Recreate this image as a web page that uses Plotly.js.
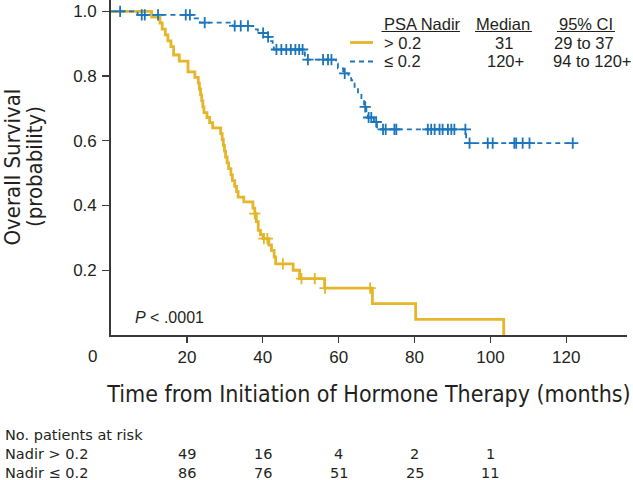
<!DOCTYPE html>
<html><head><meta charset="utf-8">
<script src="https://cdn.plot.ly/plotly-3.0.1.min.js"></script>
<style>html,body{margin:0;padding:0;background:#fff}</style>
</head><body><div id="chart" style="width:633px;height:480px"></div>
<script>
// PSA nadir > 0.2 (Kaplan-Meier event steps)
const highTimes = [0, 10.7, 12.9, 13.5, 14.3, 15.0, 15.8, 16.5, 18.0, 20.3, 22.1, 23.0, 23.3, 23.6, 23.9, 24.2, 24.5, 25.3, 26.0, 26.8,
  28.9, 29.3, 29.6, 29.9, 30.2, 30.6, 31.0, 31.6, 32.0, 32.6, 33.1, 33.5, 35.0, 37.4, 37.9, 38.3, 38.8, 39.4, 40.1, 41.6, 42.3, 43.0, 43.4,
  48.0, 49.7, 56.3, 68.9, 80.3, 103.5];
const highSurv = [1.0, 0.982, 0.964, 0.945, 0.927, 0.909, 0.891, 0.865, 0.846, 0.813, 0.796, 0.778, 0.760, 0.742, 0.724, 0.705, 0.687, 0.672, 0.656, 0.640,
  0.622, 0.604, 0.586, 0.568, 0.550, 0.532, 0.514, 0.495, 0.477, 0.459, 0.443, 0.426, 0.411, 0.392, 0.375, 0.350, 0.323, 0.310, 0.298, 0.278, 0.261, 0.241, 0.220,
  0.200, 0.174, 0.145, 0.097, 0.048, 0.0];
const highCensor = [37.9, 40.3, 41.2, 45.3, 50.2, 53.7, 56.4, 68.3];

// PSA nadir <= 0.2
const lowTimes = [0, 7.0, 21.6, 23.4, 32.1, 37.5, 38.7, 40.7, 41.8, 42.6, 42.9, 51.1, 59.3, 59.8, 61.2, 62.6, 63.3, 64.2, 65.1, 66.0, 66.7, 67.3, 67.7, 69.3, 70.1, 93.6, 121.7];
const lowSurv = [1.0, 0.989, 0.978, 0.965, 0.955, 0.944, 0.933, 0.921, 0.908, 0.894, 0.882, 0.851, 0.838, 0.824, 0.808, 0.797, 0.787, 0.767, 0.746, 0.726, 0.705, 0.684, 0.672, 0.658, 0.635, 0.593, 0.593];
const lowCensor = [2.4, 8.1, 8.9, 12.4, 19.7, 20.8, 24.7, 32.6, 34.2, 36.1, 40.1, 41.4, 43.6, 44.9, 46.2, 47.4, 48.6, 49.6, 50.5,
  51.9, 55.9, 57.2, 58.1, 61.6, 67.0, 67.9, 68.6, 69.9, 71.7, 72.4, 74.7, 75.2, 83.5, 84.4, 85.3, 86.6, 87.4, 88.8, 89.7, 90.5, 93.4,
  94.5, 99.3, 100.6, 106.3, 106.8, 108.5, 110.3, 121.7];

// Numbers at risk
const riskTimes = [20, 40, 60, 80, 100];
const riskHigh = [49, 16, 4, 2, 1];
const riskLow = [86, 76, 51, 25, 11];
const riskLabels = ['No. patients at risk', 'Nadir &gt; 0.2', 'Nadir ≤ 0.2'];

// Axes
const xTickVals = [20, 40, 60, 80, 100, 120];
const xTickText = ['20', '40', '60', '80', '100', '120'];
const yTickVals = [0.2, 0.4, 0.6, 0.8, 1.0];
const yTickText = ['0.2', '0.4', '0.6', '0.8', '1.0'];

// Legend table
const legendHeader = ['PSA Nadir', 'Median', '95% CI'];
const groupLabels = ['&gt; 0.2', '≤ 0.2'];
const medians = ['31', '120+'];
const cis = ['29 to 37', '94 to 120+'];

const YEL = '#E5B52A', BLU = '#1A75BB', INK = '#231f20', AX = '#3a3a3a';
const SANS = 'Liberation Sans, Arial, sans-serif';
const COND = 'DejaVu Sans Condensed, Liberation Sans Narrow, sans-serif';

function survAt(times, surv, t) {
  let s = surv[0];
  for (let i = 0; i < times.length; i++) if (times[i] <= t) s = surv[i];
  return s;
}

// plot-area geometry (pixels) for placing non-data text
const L = 111, R = 6, T = 0, B = 145, Wd = 633 - L - R, Ht = 480 - T - B;
const PX = x => (x - L) / Wd;
const PY = y => (T + Ht - y) / Ht;

const traces = [
  {x: highTimes, y: highSurv, mode: 'lines', line: {shape: 'hv', color: YEL, width: 2.8}, hoverinfo: 'skip', showlegend: false},
  {x: lowTimes, y: lowSurv, mode: 'lines', line: {shape: 'hv', color: BLU, width: 1.8, dash: '5px,4px'}, hoverinfo: 'skip', showlegend: false},
  {x: highCensor, y: highCensor.map(t => survAt(highTimes, highSurv, t)), mode: 'markers',
   marker: {symbol: 'cross-thin', size: 8, line: {color: YEL, width: 1.8}}, showlegend: false},
  {x: lowCensor, y: lowCensor.map(t => survAt(lowTimes, lowSurv, t)), mode: 'markers',
   marker: {symbol: 'cross-thin', size: 8, line: {color: BLU, width: 1.8}}, showlegend: false}
];

const ann = [];
const txt = (text, x, y, xanchor, font, extra) => ann.push(Object.assign({text, x, y, xref: 'paper', yref: 'paper', xanchor, yanchor: 'middle', showarrow: false, font}, extra || {}));
const legFont = {family: SANS, size: 16.5, color: INK};
const tblFont = {family: 'DejaVu Sans, sans-serif', size: 14.5, color: INK};

// y-axis title (two lines)
txt('Overall Survival', PX(11.5), PY(167), 'center', {family: COND, size: 22, color: INK}, {textangle: -90});
txt('(probability)', PX(34), PY(167), 'center', {family: COND, size: 22, color: INK}, {textangle: -90});
// x "0" label
txt('0', PX(92.7), PY(356), 'center', {family: SANS, size: 17, color: INK});
// P value
txt('<i>P</i> &lt; .0001', PX(133), PY(317), 'left', {family: SANS, size: 16, color: INK});
// legend table
txt(legendHeader[0], PX(381.5), PY(23.5), 'left', legFont);
txt(legendHeader[1], PX(503), PY(23.5), 'center', legFont);
txt(legendHeader[2], PX(586), PY(23.5), 'center', legFont);
txt(groupLabels[0], PX(381.5), PY(42.5), 'left', legFont);
txt(groupLabels[1], PX(381.5), PY(61.5), 'left', legFont);
txt(medians[0], PX(504), PY(42.5), 'center', legFont);
txt(medians[1], PX(505), PY(61.5), 'center', legFont);
txt(cis[0], PX(584), PY(42.5), 'center', legFont);
txt(cis[1], PX(592), PY(61.5), 'center', legFont);
// at-risk table
txt(riskLabels[0], PX(3), PY(434.5), 'left', tblFont);
txt(riskLabels[1], PX(3), PY(453.5), 'left', tblFont);
txt(riskLabels[2], PX(3), PY(472.5), 'left', tblFont);
riskTimes.forEach((t, i) => {
  ann.push({text: String(riskHigh[i]), x: t, xref: 'x', y: PY(453.5), yref: 'paper', xanchor: 'center', yanchor: 'middle', showarrow: false, font: tblFont});
  ann.push({text: String(riskLow[i]), x: t, xref: 'x', y: PY(472.5), yref: 'paper', xanchor: 'center', yanchor: 'middle', showarrow: false, font: tblFont});
});

const shapes = [
  {type: 'line', xref: 'paper', yref: 'paper', x0: PX(381.5), x1: PX(460), y0: PY(31.5), y1: PY(31.5), line: {color: INK, width: 1}},
  {type: 'line', xref: 'paper', yref: 'paper', x0: PX(475), x1: PX(532), y0: PY(31.5), y1: PY(31.5), line: {color: INK, width: 1}},
  {type: 'line', xref: 'paper', yref: 'paper', x0: PX(557), x1: PX(615), y0: PY(31.5), y1: PY(31.5), line: {color: INK, width: 1}},
  {type: 'line', xref: 'paper', yref: 'paper', x0: PX(350), x1: PX(373), y0: PY(42.5), y1: PY(42.5), line: {color: YEL, width: 2.8}},
  {type: 'line', xref: 'paper', yref: 'paper', x0: PX(350), x1: PX(374), y0: PY(61.5), y1: PY(61.5), line: {color: BLU, width: 2, dash: '5px,4px'}}
];

const layout = {
  width: 633, height: 480,
  margin: {l: L, r: R, t: T, b: B, pad: 0},
  paper_bgcolor: '#fff', plot_bgcolor: '#fff',
  showlegend: false,
  xaxis: {
    range: [0, 136], showgrid: false, zeroline: false, showline: true, linecolor: AX, linewidth: 1.8,
    ticks: 'outside', ticklen: 6, tickwidth: 1.3, tickcolor: AX,
    tickvals: xTickVals, ticktext: xTickText, tickfont: {family: SANS, size: 17, color: INK},
    title: {text: 'Time from Initiation of Hormone Therapy (months)', font: {family: COND, size: 23, color: INK}, standoff: 20},
    fixedrange: true
  },
  yaxis: {
    range: [0, 1.035], showgrid: false, zeroline: false, showline: true, linecolor: AX, linewidth: 1.8,
    ticks: 'outside', ticklen: 7, tickwidth: 1.3, tickcolor: AX,
    tickvals: yTickVals, ticktext: yTickText, tickfont: {family: SANS, size: 17, color: INK},
    ticklabelstandoff: 2, fixedrange: true
  },
  annotations: ann,
  shapes: shapes
};

Plotly.newPlot('chart', traces, layout, {staticPlot: true, displayModeBar: false});
</script>
</body></html>
